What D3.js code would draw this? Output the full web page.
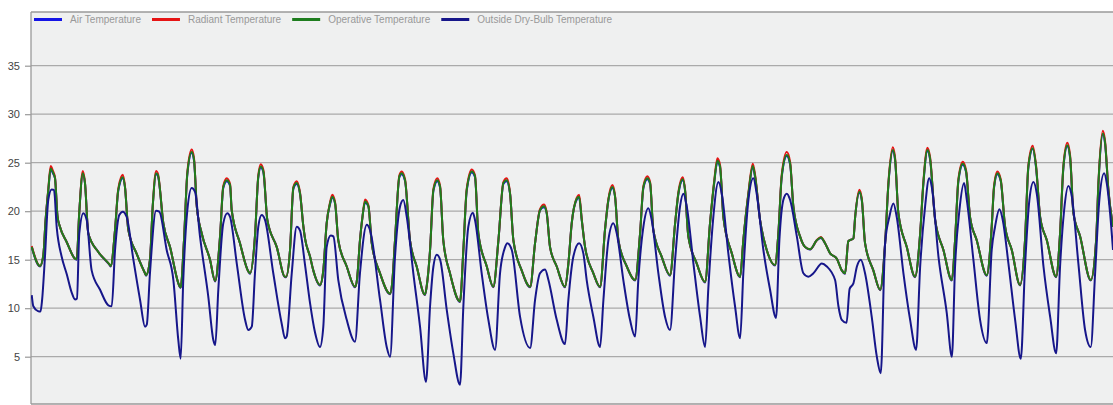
<!DOCTYPE html>
<html><head><meta charset="utf-8">
<script src="https://cdn.jsdelivr.net/npm/d3@7"></script>
<style>
html,body{margin:0;padding:0;background:#fff;}
svg{display:block;font-family:"Liberation Sans",Arial,sans-serif;}
</style></head>
<body><svg id="chart" width="1113" height="405"></svg>
<script>
// ---- data (hours from start of month, temperatures in °C) ----
const seriesNames = ["Air Temperature","Radiant Temperature","Operative Temperature","Outside Dry-Bulb Temperature"];
const yTicks = [5,10,15,20,25,30,35];

const indoorHours = [
0.5,6.2,8.5,10.0,11.9,13.5,15.1,16.5,18.2,19.9,24.6,30.3,
31.4,33.2,35.6,37.1,39.4,46.3,54.3,
54.8,57.8,60.0,63.1,64.6,66.9,72.7,78.4,
79.1,81.8,83.7,86.0,87.3,91.0,95.6,102.5,
102.9,105.2,107.5,110.5,112.1,114.0,117.4,123.1,126.6,
130.0,132.2,134.6,136.9,138.0,143.7,149.4,
150.6,154.0,156.3,158.0,159.8,162.5,169.0,174.7,
175.4,178.1,180.4,182.7,185.0,187.3,188.4,191.9,194.1,198.7,
201.0,203.3,205.6,207.2,209.1,211.3,217.1,222.8,224.2,
226.2,228.0,229.7,232.0,234.3,240.0,246.9,248.3,
250.3,253.3,254.9,257.2,260.6,265.2,270.9,272.3,
274.4,276.7,279.4,281.3,283.5,288.1,295.0,
297.3,299.6,303.1,305.3,307.6,313.4,317.9,
321.4,324.8,327.1,329.4,331.7,337.4,343.2,
346.6,350.0,352.8,354.6,356.9,361.5,367.2,
369.5,371.8,375.3,376.9,378.7,381.0,386.7,391.3,
394.7,397.0,399.8,401.6,403.9,409.7,415.4,
418.8,421.1,423.8,425.7,427.9,433.7,439.4,
442.9,445.1,448.2,449.7,452.0,457.8,463.5,
466.9,469.7,472.0,473.8,476.1,481.9,487.6,
489.8,493.3,496.3,497.9,501.3,505.9,511.6,
513.9,516.2,519.7,522.0,524.2,528.8,532.3,535.7,540.3,543.1,546.0,549.5,554.1,557.5,559.8,
562.0,565.5,566.7,569.6,571.3,573.5,579.2,583.9,
587.3,589.6,592.6,594.2,596.4,602.2,607.9,
611.4,613.6,616.4,618.2,621.7,627.4,633.2,
635.4,637.7,640.7,643.0,645.7,650.3,657.2,
660.6,662.2,664.5,666.8,669.8,674.4,680.1,
683.5,685.8,688.8,691.1,693.9,698.5,704.9,
707.6,709.9,712.6,714.5,716.8,721.4,728.7,
732.4,734.0,737.0,738.6,740.8,744.0];

const operativeTemp = [
16.3,14.35,15.5,19.0,22.2,24.4,24.0,23.4,19.5,18.4,16.8,15.1,
15.05,19.9,23.9,22.9,17.7,15.8,14.45,
14.35,18.1,22.2,23.5,22.5,18.1,15.6,13.6,
13.4,15.0,20.5,23.9,23.7,18.75,16.3,12.2,
12.15,17.0,23.9,26.1,25.3,20.5,17.7,15.0,12.8,
17.4,22.5,23.2,22.7,20.1,16.7,13.8,
13.6,17.4,23.6,24.6,24.1,19.1,16.3,13.25,
13.25,16.0,22.4,22.9,21.8,18.4,17.2,15.3,13.9,12.4,
13.9,18.75,20.8,21.5,20.8,17.0,14.3,12.2,13.0,
17.0,19.5,21.0,20.5,16.7,13.6,11.5,12.5,
17.0,23.6,23.9,23.2,17.0,14.3,11.4,12.5,
16.0,22.2,23.2,22.5,17.0,13.6,10.7,
16.0,22.2,24.1,23.6,17.7,14.3,12.2,
17.0,22.9,23.2,21.8,17.0,13.9,12.2,
16.7,20.1,20.5,19.8,16.3,14.3,12.2,
14.6,18.75,21.3,21.5,19.1,16.3,13.6,12.2,
18.1,21.15,22.5,21.5,17.0,14.3,12.9,
17.7,22.5,23.4,22.9,18.1,15.3,13.4,
18.75,21.8,23.3,22.2,17.4,14.6,12.7,
18.75,22.9,25.2,24.6,19.4,15.65,13.25,
17.0,21.8,24.66,23.6,19.1,16.0,14.45,
17.7,23.6,25.8,24.9,20.5,17.4,16.3,16.07,17.0,17.3,16.7,15.65,15.1,13.9,13.6,
16.9,17.2,19.4,22.0,21.15,16.7,13.9,11.9,
16.7,22.9,26.3,25.3,19.8,16.3,13.25,
17.7,22.9,26.3,25.45,19.1,16.0,12.9,
17.0,23.2,24.9,24.07,19.4,17.0,13.4,
18.4,22.5,23.9,23.2,18.4,16.0,12.4,
17.0,24.6,26.5,24.6,19.4,17.0,13.25,
17.7,24.6,26.8,25.6,19.8,17.4,12.9,
17.0,22.9,28.0,27.0,22.2,18.4];

const airTemp = [
16.3,14.3,15.5,19.0,22.1,24.3,23.9,23.4,19.5,18.4,16.8,15.1,
15.0,19.9,23.8,22.9,17.7,15.8,14.4,
14.3,18.1,22.1,23.4,22.5,18.1,15.6,13.6,
13.35,15.0,20.5,23.8,23.6,18.75,16.3,12.15,
12.1,17.0,23.8,26.0,25.2,20.5,17.7,15.0,12.75,
17.4,22.4,23.1,22.6,20.1,16.7,13.8,
13.55,17.4,23.5,24.5,24.0,19.1,16.3,13.2,
13.2,16.0,22.3,22.8,21.8,18.4,17.2,15.3,13.9,12.35,
13.9,18.75,20.7,21.4,20.8,17.0,14.3,12.15,13.0,
17.0,19.5,20.9,20.5,16.7,13.6,11.45,12.5,
17.0,23.5,23.8,23.1,17.0,14.3,11.35,12.5,
16.0,22.1,23.1,22.4,17.0,13.6,10.65,
16.0,22.1,24.0,23.5,17.7,14.3,12.15,
17.0,22.8,23.1,21.8,17.0,13.9,12.15,
16.7,20.1,20.4,19.8,16.3,14.3,12.15,
14.6,18.75,21.2,21.4,19.1,16.3,13.6,12.15,
18.1,21.1,22.4,21.5,17.0,14.3,12.85,
17.7,22.4,23.3,22.8,18.1,15.3,13.35,
18.75,21.7,23.2,22.2,17.4,14.6,12.65,
18.75,22.8,25.1,24.5,19.4,15.65,13.2,
17.0,21.7,24.55,23.5,19.1,16.0,14.4,
17.7,23.5,25.7,24.8,20.5,17.4,16.3,16.05,17.0,17.25,16.7,15.65,15.1,13.9,13.55,
16.9,17.2,19.4,21.9,21.1,16.7,13.9,11.85,
16.7,22.8,26.2,25.2,19.8,16.3,13.2,
17.7,22.8,26.2,25.35,19.1,16.0,12.85,
17.0,23.1,24.8,24.0,19.4,17.0,13.35,
18.4,22.4,23.8,23.1,18.4,16.0,12.35,
17.0,24.5,26.4,24.5,19.4,17.0,13.2,
17.7,24.5,26.7,25.5,19.8,17.4,12.85,
17.0,22.8,27.9,26.9,22.2,18.4];

const radiantTemp = [
16.4,14.35,15.5,19.0,22.3,24.65,24.15,23.5,19.5,18.4,16.8,15.1,
15.05,19.9,24.15,23.0,17.7,15.8,14.45,
14.35,18.1,22.3,23.75,22.6,18.1,15.6,13.6,
13.4,15.0,20.5,24.15,23.85,18.75,16.3,12.2,
12.15,17.0,24.0,26.35,25.45,20.5,17.7,15.0,12.8,
17.4,22.6,23.4,22.8,20.1,16.7,13.8,
13.6,17.4,23.7,24.85,24.25,19.1,16.3,13.25,
13.25,16.0,22.5,23.1,21.9,18.4,17.2,15.3,13.9,12.4,
13.9,18.75,20.9,21.7,20.9,17.0,14.3,12.2,13.0,
17.0,19.5,21.2,20.6,16.7,13.6,11.5,12.5,
17.0,23.7,24.1,23.3,17.0,14.3,11.4,12.5,
16.0,22.3,23.4,22.6,17.0,13.6,10.7,
16.0,22.3,24.3,23.7,17.7,14.3,12.2,
17.0,23.0,23.4,21.9,17.0,13.9,12.2,
16.7,20.2,20.7,19.9,16.3,14.3,12.2,
14.6,18.75,21.4,21.7,19.2,16.3,13.6,12.2,
18.1,21.25,22.7,21.6,17.0,14.3,12.9,
17.7,22.6,23.6,23.0,18.1,15.3,13.4,
18.75,21.9,23.5,22.3,17.4,14.6,12.7,
18.75,23.0,25.45,24.75,19.4,15.65,13.25,
17.0,21.9,24.9,23.75,19.1,16.0,14.45,
17.7,23.75,26.1,25.05,20.5,17.4,16.3,16.07,17.0,17.35,16.7,15.65,15.1,13.9,13.6,
16.9,17.2,19.4,22.2,21.25,16.7,13.9,11.9,
16.7,23.0,26.6,25.45,19.8,16.3,13.25,
17.7,23.0,26.55,25.6,19.1,16.0,12.9,
17.0,23.3,25.1,24.2,19.4,17.0,13.4,
18.4,22.6,24.1,23.3,18.4,16.0,12.4,
17.0,24.7,26.75,24.7,19.4,17.0,13.25,
17.7,24.7,27.05,25.75,19.8,17.4,12.9,
17.0,23.0,28.3,27.15,22.3,18.4];

const outsideHours = [
0.5,1.6,4.8,6.5,7.6,9.6,11.9,14.2,15.8,17.7,21.1,24.6,28.0,30.3,31.6,
33.2,36.0,38.3,41.7,47.5,53.2,55.5,
57.8,60.7,63.1,65.8,70.4,75.0,78.4,79.6,
81.8,86.0,88.2,93.3,97.9,101.3,102.9,
104.7,107.5,110.5,112.8,116.2,121.9,125.4,126.7,
128.8,132.2,135.0,136.9,141.5,147.2,149.4,151.8,
154.0,156.3,158.6,160.9,166.6,172.4,174.7,175.8,
179.3,182.7,185.0,188.4,191.9,195.3,198.7,
201.0,203.3,206.1,207.9,211.3,217.1,222.8,
226.2,230.9,233.1,240.0,244.6,246.9,
250.3,253.8,256.0,258.4,262.9,267.5,271.6,
274.4,276.7,279.0,281.3,285.9,290.4,295.0,
297.3,300.7,303.8,305.3,309.9,314.5,319.1,
322.5,326.0,327.5,330.6,336.3,343.2,
346.6,350.0,353.5,355.8,361.5,367.2,
369.5,372.9,376.9,379.8,382.1,386.7,391.3,
393.6,397.0,400.4,402.8,407.3,411.9,415.4,
417.6,421.1,424.5,426.8,431.4,436.0,439.4,
442.9,446.3,448.6,450.9,455.5,460.1,463.5,
465.8,468.8,472.7,475.0,479.5,484.1,487.6,
489.8,493.3,496.7,499.0,503.6,508.2,512.3,
514.6,517.3,519.7,522.0,526.6,531.1,534.5,538.0,543.8,547.2,552.9,555.2,557.5,560.8,
562.9,565.5,567.9,570.6,573.5,578.1,581.6,584.3,
587.3,590.2,593.0,595.3,599.9,604.5,608.6,
611.4,614.8,617.6,619.4,624.0,629.7,633.2,
635.4,638.4,641.6,643.5,648.0,652.6,657.2,
660.6,662.9,665.9,668.2,672.1,676.7,680.6,
683.5,686.5,689.3,691.6,696.2,700.8,704.9,
707.6,710.4,713.3,715.7,720.2,724.8,728.7,
731.7,734.6,737.9,739.7,742.0,744.0];

const outsideTemp = [
11.35,10.2,9.7,9.65,10.8,15.3,21.2,22.25,22.2,18.3,15.3,13.5,11.6,10.9,11.0,
17.7,19.8,19.1,13.9,11.9,10.3,10.2,
16.0,19.6,19.95,19.4,15.0,10.85,8.1,8.3,
13.6,20.05,19.95,16.0,12.9,6.7,4.8,
12.9,20.1,22.4,22.0,17.4,11.2,6.7,6.2,
11.9,18.75,19.8,19.4,14.6,8.8,7.75,8.1,
13.6,18.4,19.6,19.1,13.6,8.4,6.9,7.07,
13.6,18.4,18.0,14.5,10.5,7.5,6.0,
8.1,16.3,17.5,17.4,12.9,8.8,6.55,
13.6,18.6,18.06,10.85,6.0,5.0,
15.3,20.5,21.15,19.4,13.6,8.1,2.4,
10.2,14.3,15.5,15.0,9.8,5.35,2.1,
10.2,18.4,19.85,19.1,13.6,8.8,5.7,
13.6,16.3,16.7,16.0,9.1,5.9,
10.85,13.6,14.0,12.9,8.8,6.3,
10.85,15.3,16.7,15.65,12.9,9.1,6.0,
10.85,17.0,18.75,17.7,12.9,8.8,7.07,
12.9,18.4,20.3,19.1,13.6,9.1,7.75,
15.0,20.5,21.8,20.5,14.6,9.1,6.0,
12.2,18.75,23.0,21.8,15.65,10.2,6.9,
13.6,21.15,23.4,21.8,16.0,11.9,9.0,
17.0,21.15,21.8,21.15,17.4,13.6,13.25,13.6,14.6,14.3,12.9,10.2,8.8,8.5,
12.0,12.56,14.3,15.0,13.6,9.1,5.0,3.3,
16.7,19.4,20.8,19.4,13.6,8.8,5.7,
14.3,20.5,23.4,22.5,15.3,9.5,5.0,
14.3,20.1,22.9,21.15,15.0,8.8,6.4,
16.0,18.4,20.2,19.1,14.6,8.8,4.8,
14.3,21.15,23.0,21.8,14.3,9.1,5.35,
14.3,20.1,22.6,21.5,14.6,7.75,6.0,
13.6,21.15,23.9,22.9,19.8,16.0];

// ---- drawing ----
const plot = {left: 31, right: 1113, top: 12, bottom: 404};
const svg = d3.select("#chart");

const x = d3.scaleLinear().domain([0, 744]).range([plot.left, plot.right]);
const y = d3.scaleLinear().domain([0, 40.5]).range([405.2, 12.35]);

svg.append("rect").attr("x", plot.left).attr("y", plot.top)
  .attr("width", plot.right - plot.left).attr("height", plot.bottom - plot.top)
  .attr("fill", "#eff0f0");

svg.append("defs").append("clipPath").attr("id", "clip")
  .append("rect").attr("x", plot.left).attr("y", plot.top)
  .attr("width", plot.right - plot.left).attr("height", plot.bottom - plot.top);

// gridlines
svg.append("g").selectAll("line").data(yTicks).join("line")
  .attr("x1", plot.left).attr("x2", plot.right)
  .attr("y1", d => y(d)).attr("y2", d => y(d))
  .attr("stroke", "#aaaaaa").attr("stroke-width", 1.3);

// y axis
const yAxis = svg.append("g").attr("transform", `translate(${plot.left},0)`)
  .call(d3.axisLeft(y).tickValues(yTicks).tickSize(6).tickPadding(5).tickFormat(d3.format("d")));
yAxis.select(".domain").remove();
yAxis.selectAll(".tick line").attr("stroke", "#999").attr("stroke-width", 1.2);
yAxis.selectAll(".tick text").attr("fill", "#444").attr("font-size", 11)
  .attr("font-family", '"Liberation Sans",Arial,sans-serif');

// frame
[[plot.left, plot.top, plot.right, plot.top],
 [plot.left, plot.bottom, plot.right, plot.bottom],
 [plot.left, plot.top, plot.left, plot.bottom]].forEach(s => {
  svg.append("line").attr("x1", s[0]).attr("y1", s[1]).attr("x2", s[2]).attr("y2", s[3])
    .attr("stroke", "#9a9a9a").attr("stroke-width", 1.3);
});

const colors = ["#1414e6", "#e61414", "#1e7d1e", "#16168a"];
const indoorSets = [airTemp, radiantTemp, operativeTemp];
const line = d3.line().x(d => x(d[0])).y(d => y(d[1])).curve(d3.curveMonotoneX);

const g = svg.append("g").attr("clip-path", "url(#clip)");
indoorSets.forEach((vals, i) => {
  g.append("path").datum(d3.zip(indoorHours, vals))
    .attr("d", line).attr("fill", "none")
    .attr("stroke", colors[i]).attr("stroke-width", 2).attr("stroke-linejoin", "round");
});
g.append("path").datum(d3.zip(outsideHours, outsideTemp))
  .attr("d", line).attr("fill", "none")
  .attr("stroke", colors[3]).attr("stroke-width", 2).attr("stroke-linejoin", "round");

// legend
const leg = svg.append("g");
let lx = 34;
const ly = 19.5;
seriesNames.forEach((name, i) => {
  leg.append("line").attr("x1", lx).attr("x2", lx + 28).attr("y1", ly).attr("y2", ly)
    .attr("stroke", colors[i]).attr("stroke-width", 3);
  const t = leg.append("text").attr("x", lx + 36).attr("y", ly + 3.5)
    .attr("font-size", 10).attr("fill", "#999").text(name);
  lx += 36 + t.node().getComputedTextLength() + 11;
});
</script></body></html>
